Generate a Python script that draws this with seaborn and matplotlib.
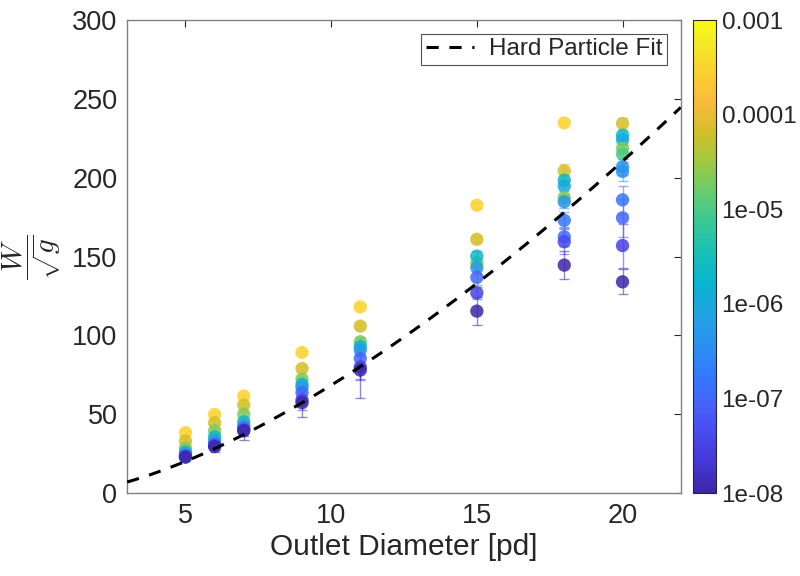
import numpy as np
import pandas as pd
import matplotlib
matplotlib.use("Agg")
import matplotlib.pyplot as plt
import matplotlib.colors as mcolors
import seaborn as sns

# ---------------- data ----------------
diameters = [5, 6, 7, 9, 11, 15]
cohesion_base = [3e-4, 7e-5, 2e-5, 2e-6, 5e-7, 1e-7, 3e-8, 1e-8]
W_5 = [38.3, 33.0, 28.5, 26.0, 24.5, 23.8, 23.0, 22.8]
W_6 = [49.9, 44.6, 39.5, 35.7, 33.0, 31.0, 30.0, 29.5]
W_7 = [61.5, 55.8, 49.9, 45.2, 42.5, 41.0, 40.0, 39.5]
W_9 = [89.2, 79.0, 72.3, 69.0, 67.0, 63.6, 59.0, 57.3]
W_11 = [118.1, 105.9, 96.0, 93.0, 90.7, 85.4, 80.0, 78.0]
W_15 = [182.6, 161.0, 146.0, 150.3, 143.0, 136.8, 127.0, 115.4]
err_5 = [1.0, 1.0, 1.0, 1.0, 1.0, 1.5, 1.5, 2.0]
err_6 = [1.0, 1.0, 1.5, 1.5, 2.0, 2.5, 3.0, 3.5]
err_7 = [1.0, 1.0, 1.5, 2.0, 2.5, 3.0, 4.0, 6.0]
err_9 = [1.0, 1.5, 2.0, 2.5, 3.0, 4.0, 6.0, 9.0]
err_11 = [1.5, 2.0, 3.0, 3.0, 4.0, 13.0, 8.0, 18.0]
err_15 = [1.5, 2.0, 3.0, 3.0, 4.0, 5.0, 4.0, 9.0]

cohesion_18 = [3e-4, 7e-5, 2e-6, 1e-6, 2e-5, 5e-7, 1.5e-7, 1e-7, 4e-8, 1e-8]
W_18 = [234.8, 204.4, 198.5, 194.7, 187.5, 184.8, 173.0, 162.5, 159.4, 144.6]
err_18 = [1.5, 4.6, 3.0, 3.0, 3.0, 4.0, 5.0, 6.0, 8.0, 9.0]

cohesion_20 = [7e-5, 2e-6, 1e-6, 2e-5, 1e-5, 5e-7, 4e-7, 1.5e-7, 1e-7, 3e-8, 1e-8]
W_20 = [234.4, 227.0, 224.0, 218.6, 215.0, 207.0, 204.0, 186.0, 174.6, 157.0, 134.0]
err_20 = [3.5, 3.0, 3.0, 3.0, 3.0, 5.0, 6.0, 9.0, 12.0, 14.0, 8.0]

# hard particle (2D Beverloo-type) fit parameters
fit_C = 2.55
fit_k = 1.04
fit_exp = 1.5

cbar_ticks = [1e-8, 1e-7, 1e-6, 1e-5, 1e-4, 1e-3]
cbar_labels = ["1e-08", "1e-07", "1e-06", "1e-05", "0.0001", "0.001"]

# ---------------- build table ----------------
rows = []
for d, W, e in zip(diameters, [W_5, W_6, W_7, W_9, W_11, W_15],
                   [err_5, err_6, err_7, err_9, err_11, err_15]):
    for w, ee, c in zip(W, e, cohesion_base):
        rows.append((d, w, ee, c))
for w, ee, c in zip(W_18, err_18, cohesion_18):
    rows.append((18, w, ee, c))
for w, ee, c in zip(W_20, err_20, cohesion_20):
    rows.append((20, w, ee, c))
df = pd.DataFrame(rows, columns=["D", "W", "err", "c"])

# parula-like colormap
parula_pts = [
    (0.2422, 0.1504, 0.6603), (0.2706, 0.2147, 0.8364), (0.2813, 0.3006, 0.9414),
    (0.2699, 0.3892, 0.9906), (0.1963, 0.4847, 0.9892), (0.1687, 0.5703, 0.9359),
    (0.1248, 0.6459, 0.8883), (0.0297, 0.7082, 0.8163), (0.0964, 0.7500, 0.7120),
    (0.2161, 0.7843, 0.5923), (0.3909, 0.8029, 0.4354), (0.6174, 0.7876, 0.2612),
    (0.8203, 0.7498, 0.1535), (0.9728, 0.7298, 0.2394), (0.9892, 0.8136, 0.1885),
    (0.9597, 0.9135, 0.1423), (0.9769, 0.9839, 0.0805)]
pos = [0, 4, 8, 12, 16, 20, 24, 28, 32, 36, 40, 44, 48, 52, 56, 60, 63]
parula = mcolors.LinearSegmentedColormap.from_list(
    "parula", [(p / 63, c) for p, c in zip(pos, parula_pts)])
norm = mcolors.LogNorm(vmin=1e-8, vmax=1e-3)

# ---------------- plot ----------------
sns.set_style("white")
plt.rcParams["font.family"] = ["Liberation Sans", "DejaVu Sans"]
plt.rcParams["mathtext.fontset"] = "cm"

fig = plt.figure(figsize=(8, 5.76), dpi=100)
ax = fig.add_axes([0.159, 0.144, 0.692, 0.821])
cax = fig.add_axes([0.866, 0.144, 0.029, 0.821])

# error bars
for _, r in df.iterrows():
    col = parula(norm(r["c"]))
    ax.errorbar(r["D"], r["W"], yerr=r["err"], fmt="none", ecolor=col,
                elinewidth=1.0, capsize=3.6, capthick=1.0, alpha=0.55, zorder=2)

sns.scatterplot(data=df, x="D", y="W", hue="c", hue_norm=norm, palette=parula,
                s=92, linewidth=0, alpha=0.85, legend=False, ax=ax, zorder=3)

# fit line
xf = np.linspace(3, 22, 200)
yf = fit_C * (xf - fit_k) ** fit_exp
sns.lineplot(x=xf, y=yf, ax=ax, color="black", linestyle=(0, (4, 3.5)),
             linewidth=2.2, label="Hard Particle Fit", zorder=4)

ax.set_xlim(3, 22)
ax.set_ylim(0, 300)
ax.set_xticks([5, 10, 15, 20])
ax.set_yticks([0, 50, 100, 150, 200, 250, 300])
ax.tick_params(axis="both", which="both", direction="in", length=5, width=0.8,
               colors="#262626", labelsize=19.5, top=True, right=True,
               labelcolor="#262626", pad=7)
for sp in ax.spines.values():
    sp.set_color("#808080")
    sp.set_linewidth(1.0)
ax.set_xlabel("Outlet Diameter [pd]", fontsize=21.5, color="#262626", labelpad=3)
ax.set_ylabel(r"$\dfrac{W}{\sqrt{g}}$", fontsize=21, color="#262626", labelpad=6)

leg = ax.legend(loc="upper right", fontsize=17.5, frameon=True, fancybox=False,
                edgecolor="#262626", handlelength=2.0, borderpad=0.2,
                handletextpad=0.6, borderaxespad=0.55)
leg.get_frame().set_linewidth(0.8)

# colorbar
sm = plt.cm.ScalarMappable(norm=norm, cmap=parula)
cb = fig.colorbar(sm, cax=cax)
cb.set_ticks(cbar_ticks)
cb.set_ticklabels(cbar_labels)
cb.ax.minorticks_off()
cb.ax.tick_params(direction="in", length=4, width=0.8, labelsize=17.5,
                  colors="#262626", pad=4)
cb.outline.set_linewidth(0.8)
cb.outline.set_edgecolor("#262626")

fig.savefig("out.png", dpi=100)
